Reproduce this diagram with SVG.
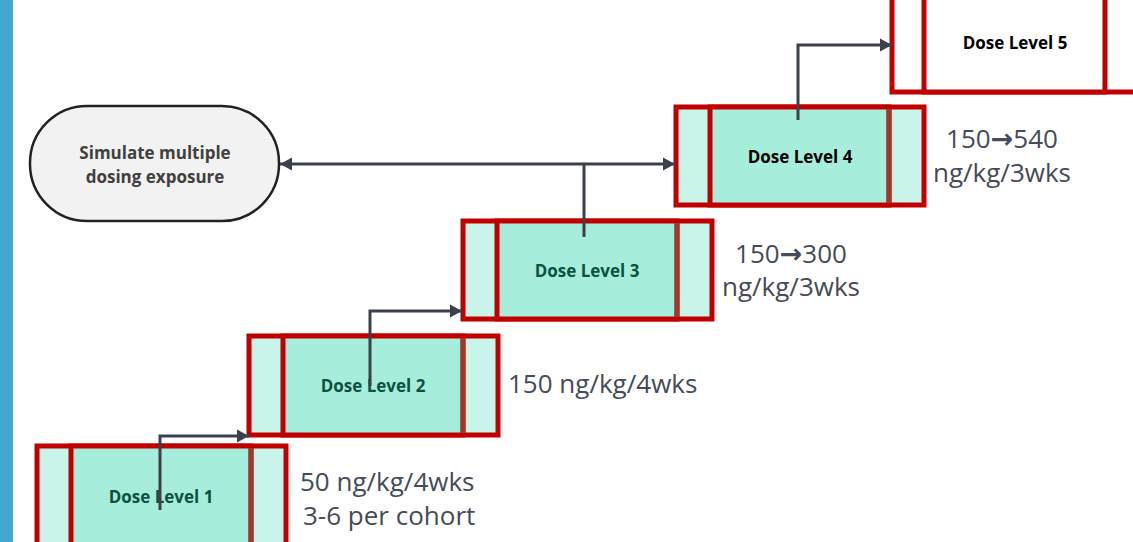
<svg xmlns="http://www.w3.org/2000/svg" width="1133" height="542" viewBox="0 0 1133 542">
<defs>
<style>
.outer{fill:#c9f4e9;stroke:#c00000;stroke-width:5}
.mid{fill:#a6eedb;stroke:#c00000;stroke-width:5}
.brn{stroke:#a0392b;stroke-width:5}
.w .outer,.w .mid{fill:#ffffff}
.w .brn{stroke:#c00000}
.lbl{font-family:"Open Sans","Liberation Sans",sans-serif;font-weight:700;font-size:17px;text-anchor:middle;fill:#0d5140}
.blk{fill:#000000}
.note{font-family:"Open Sans","DejaVu Sans",sans-serif;font-size:26px;fill:#454b57}
.arr{font-family:"DejaVu Sans",sans-serif;font-size:27px;font-weight:700}
.mdl{text-anchor:middle}
.con{fill:none;stroke:#3b404b;stroke-width:3}
</style>
<marker id="ah" markerUnits="userSpaceOnUse" markerWidth="14" markerHeight="14" viewBox="0 0 14 14" refX="12" refY="7" orient="auto-start-reverse">
<path d="M0,0.5 L12,7 L0,13.5 z" fill="#3b404b"/>
</marker>
</defs>
<rect x="0" y="0" width="13" height="542" fill="#46a6d2"/>

<g id="terminal">
<rect x="30" y="106" width="249" height="115" rx="57" ry="57" fill="#f2f2f2" stroke="#222222" stroke-width="2.5"/>
<text class="lbl" style="fill:#404040" x="155" y="159">Simulate multiple</text>
<text class="lbl" style="fill:#404040" x="155" y="183">dosing exposure</text>
</g>

<g id="dose1">
<rect class="outer" x="37" y="446" width="249" height="110"/>
<rect class="mid" x="71" y="446" width="180" height="110"/>
<line class="brn" x1="251" y1="448" x2="251" y2="542"/>
<text class="lbl" x="161" y="503">Dose Level 1</text>
</g>

<g id="dose2">
<rect class="outer" x="249" y="336" width="249" height="99"/>
<rect class="mid" x="283" y="336" width="180" height="99"/>
<line class="brn" x1="463" y1="338" x2="463" y2="433"/>
<text class="lbl" x="373" y="392">Dose Level 2</text>
</g>

<g id="dose3">
<rect class="outer" x="463" y="221" width="249" height="98"/>
<rect class="mid" x="497" y="221" width="180" height="98"/>
<line class="brn" x1="677" y1="223" x2="677" y2="317"/>
<text class="lbl" x="587" y="277">Dose Level 3</text>
</g>

<g id="dose4">
<rect class="outer" x="676" y="107" width="248" height="98"/>
<rect class="mid" x="710" y="107" width="179" height="98"/>
<line class="brn" x1="889" y1="109" x2="889" y2="203"/>
<text class="lbl blk" x="800" y="163">Dose Level 4</text>
</g>

<g id="dose5" class="w">
<rect class="outer" x="892" y="-8" width="249" height="100"/>
<rect class="mid" x="924" y="-8" width="181" height="100"/>
<text class="lbl blk" x="1015" y="49">Dose Level 5</text>
</g>

<g id="notes">
<text class="note" x="300" y="491">50 ng/kg/4wks</text>
<text class="note" x="303" y="525">3-6 per cohort</text>
<text class="note" x="508" y="393">150 ng/kg/4wks</text>
<text class="note mdl" x="791" y="263">150<tspan class="arr">→</tspan>300</text>
<text class="note mdl" x="791" y="296">ng/kg/3wks</text>
<text class="note mdl" x="1002" y="148">150<tspan class="arr">→</tspan>540</text>
<text class="note mdl" x="1002" y="182">ng/kg/3wks</text>
</g>

<g id="connectors">
<path class="con" d="M160 510 V436 H249" marker-end="url(#ah)"/>
<path class="con" d="M370 386 V311 H462" marker-end="url(#ah)"/>
<path class="con" d="M584 237 V164"/>
<path class="con" d="M280 164 H675" marker-start="url(#ah)" marker-end="url(#ah)"/>
<path class="con" d="M798 120 V45 H892" marker-end="url(#ah)"/>
</g>
</svg>
